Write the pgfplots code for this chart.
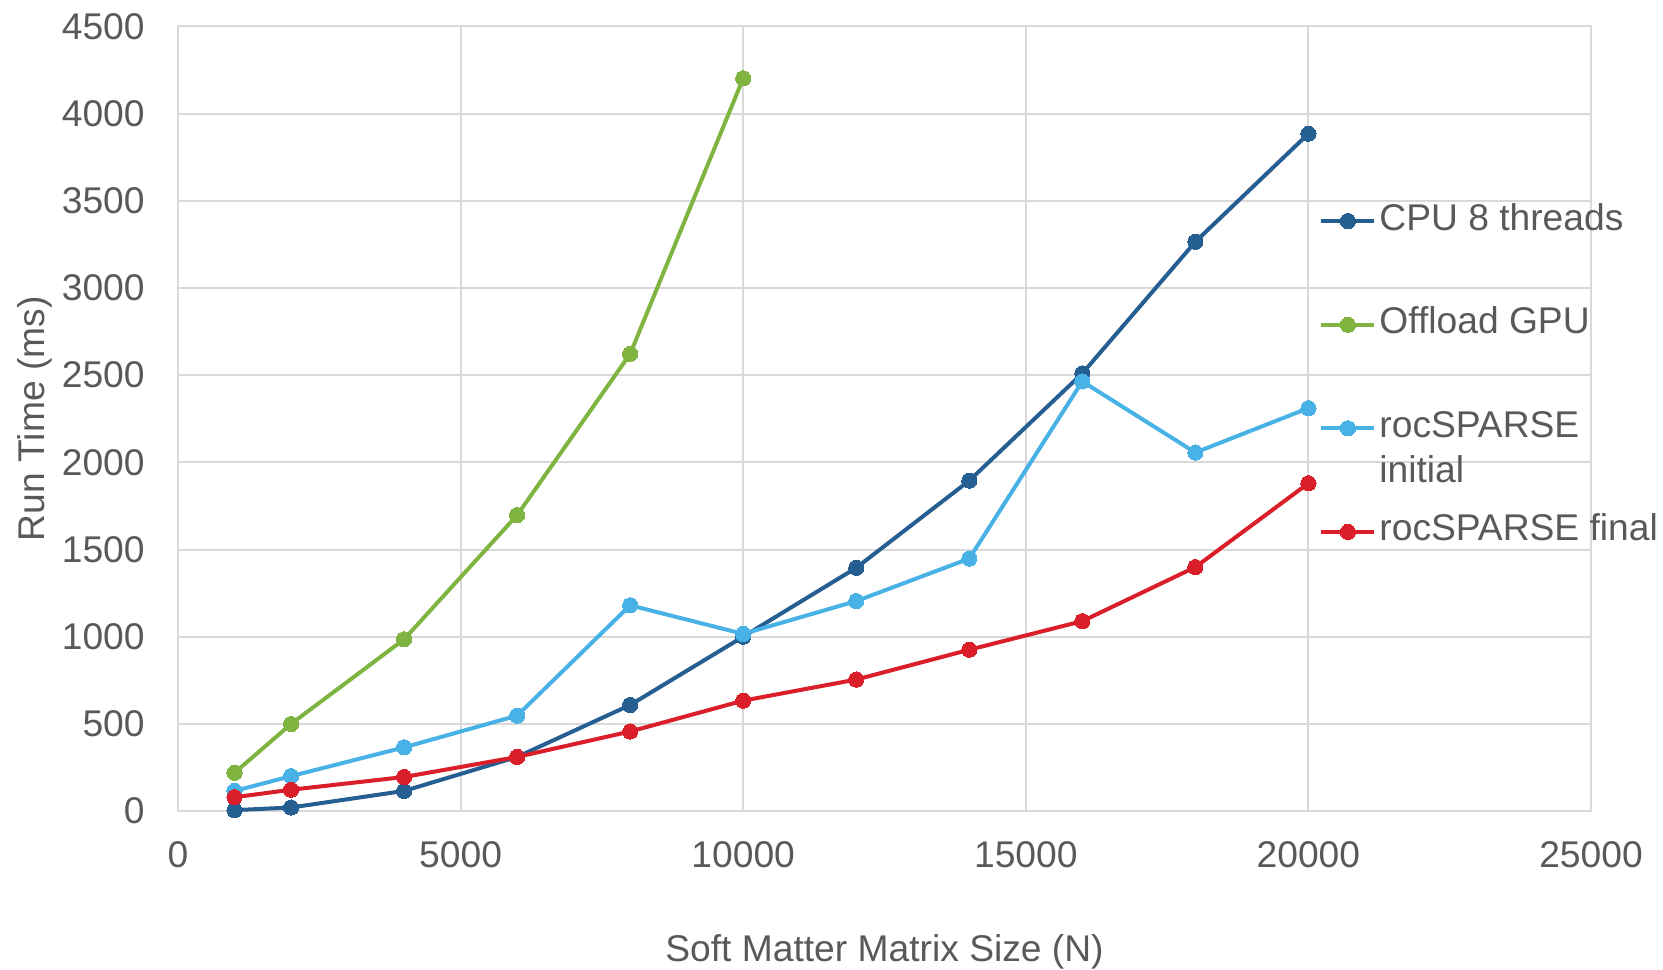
\documentclass[border=0pt]{standalone}
\usepackage{pgfplots}
\pgfplotsset{compat=1.18}
\usepackage{fontspec}
\setmainfont{Liberation Sans}

\definecolor{cpu}{HTML}{255E91}
\definecolor{gpu}{HTML}{80B441}
\definecolor{rinit}{HTML}{48B1E6}
\definecolor{rfinal}{HTML}{DA1F2A}
\definecolor{gridgray}{HTML}{D9D9D9}
\definecolor{txt}{HTML}{595959}

\newcommand{\chartfont}{\fontsize{18.6}{22}\selectfont}

\pgfplotsset{
  series/.style={color=#1, line width=2pt, mark=*, mark size=3.8pt,
    mark options={fill=#1, draw=#1, line width=0pt}},
}

\begin{document}
\begin{tikzpicture}
\path[use as bounding box] (0,0) rectangle (831.5pt,484.5pt);
\begin{axis}[
  at={(89pt,79pt)}, anchor=south west,
  scale only axis, width=706.5pt, height=392.25pt,
  xmin=0, xmax=25000, ymin=0, ymax=4500,
  xtick={0,5000,...,25000}, ytick={0,500,...,4500},
  scaled ticks=false,
  /pgf/number format/assume math mode=true,
  /pgf/number format/1000 sep={},
  major tick length=0pt,
  grid=major,
  major grid style={draw=gridgray, line width=1pt},
  axis line style={draw=gridgray, line width=1pt},
  tick label style={font=\chartfont, text=txt},
  xticklabel style={inner sep=0pt, anchor=north, yshift=-15pt},
  yticklabel style={inner sep=0pt, anchor=east, xshift=-16.5pt},
  xlabel={Soft Matter Matrix Size (N)},
  ylabel={Run Time (ms)},
  label style={font=\chartfont, text=txt},
  xlabel style={at={(axis description cs:0.5,0)}, anchor=center, yshift=-70.5pt},
  ylabel style={at={(axis description cs:-0.1012,0.5)}, anchor=center},
  legend style={
    at={(axis cs:20082,2492)}, anchor=west,
    draw=none, fill=none,
    font=\chartfont, text=txt,
    row sep=34.8pt,
    nodes={inner ysep=0pt, inner xsep=1.5pt, text height=13pt, text depth=4pt},
  },
  legend cell align=left,
  legend image code/.code={
    \draw[mark repeat=2, mark phase=2, #1]
      plot coordinates {(0pt,0pt) (13.25pt,0pt) (26.5pt,0pt)};
  },
]

% CPU with 8 threads
\addplot[series=cpu] coordinates {
  (1000,5) (2000,20) (4000,115) (6000,310) (8000,608) (10000,1000)
  (12000,1395) (14000,1895) (16000,2510) (18000,3265) (20000,3885)
};
\addlegendentry{CPU 8 threads}

% Offloaded to GPU
\addplot[series=gpu] coordinates {
  (1000,219) (2000,499) (4000,985) (6000,1697) (8000,2622) (10000,4203)
};
\addlegendentry{Offload GPU}

% rocSPARSE, first version
\addplot[series=rinit] coordinates {
  (1000,115) (2000,200) (4000,365) (6000,547) (8000,1180) (10000,1016)
  (12000,1204) (14000,1448) (16000,2464) (18000,2056) (20000,2311)
};
\addlegendentry{\makebox[0pt][l]{\raisebox{-22.5pt}[0pt][0pt]{initial}}rocSPARSE}

% rocSPARSE, optimised version
\addplot[series=rfinal] coordinates {
  (1000,79) (2000,122) (4000,195) (6000,310) (8000,456) (10000,633)
  (12000,754) (14000,925) (16000,1089) (18000,1399) (20000,1880)
};
\addlegendentry{rocSPARSE final}

\end{axis}
\end{tikzpicture}
\end{document}
